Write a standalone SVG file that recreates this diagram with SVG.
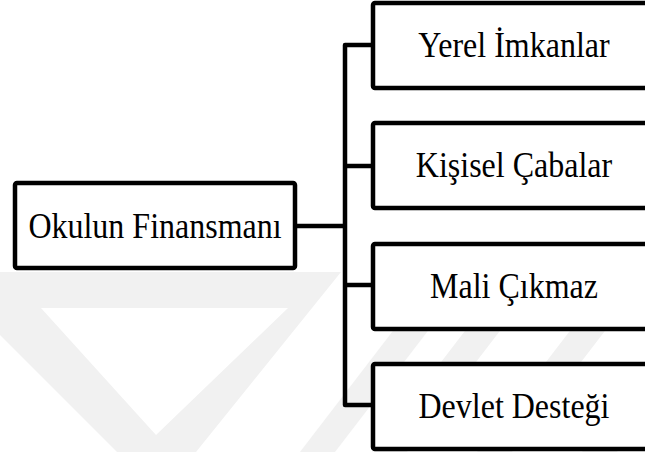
<svg xmlns="http://www.w3.org/2000/svg" width="645" height="452" viewBox="0 0 645 452">
  <style>
    .box { fill: #ffffff; stroke: #000000; stroke-width: 4.5; stroke-linejoin: round; }
    .lbl { font-family: "Liberation Serif", "Times New Roman", serif; font-size: 32px; fill: #000000; text-anchor: middle; }
    .conn { fill: none; stroke: #000000; stroke-width: 4.5; stroke-linejoin: round; }
    .wm { fill: #f1f1f1; stroke: none; }
  </style>
  <rect x="0" y="0" width="645" height="452" fill="#ffffff"/>
  <g id="watermark">
    <path class="wm" fill-rule="evenodd" d="M0 272 L341 272 L196 452 L117 452 L0 335 Z M41 308 L288 308 L156 435 Z"/>
    <polygon class="wm" points="300,452 335,452 490,250 455,250"/>
    <polygon class="wm" points="372,452 407,452 562,250 527,250"/>
    <polygon class="wm" points="477,452 512,452 667,250 632,250"/>
    <polygon class="wm" points="582,452 617,452 772,250 737,250"/>
  </g>
  <g id="connectors">
    <path class="conn" d="M297 226 H345"/>
    <path class="conn" d="M373 45 H345 V405 H373"/>
    <path class="conn" d="M345 166 H373"/>
    <path class="conn" d="M345 285 H373"/>
  </g>
  <g id="node-okulun-finansmani">
    <rect class="box" x="15" y="183" width="280" height="85" rx="2"/>
    <text class="lbl" transform="translate(155 238) scale(1 1.1)">Okulun Finansmanı</text>
  </g>
  <g id="node-yerel-imkanlar">
    <rect class="box" x="373" y="3" width="300" height="85" rx="2"/>
    <text class="lbl" transform="translate(514 57) scale(1 1.1)">Yerel İmkanlar</text>
  </g>
  <g id="node-kisisel-cabalar">
    <rect class="box" x="373" y="123" width="300" height="85" rx="2"/>
    <text class="lbl" transform="translate(514 177) scale(1 1.1)">Kişisel Çabalar</text>
  </g>
  <g id="node-mali-cikmaz">
    <rect class="box" x="373" y="244" width="300" height="85" rx="2"/>
    <text class="lbl" transform="translate(514 298) scale(1 1.1)">Mali Çıkmaz</text>
  </g>
  <g id="node-devlet-destegi">
    <rect class="box" x="373" y="364" width="300" height="85" rx="2"/>
    <text class="lbl" transform="translate(514 418) scale(1 1.1)">Devlet Desteği</text>
  </g>
</svg>
